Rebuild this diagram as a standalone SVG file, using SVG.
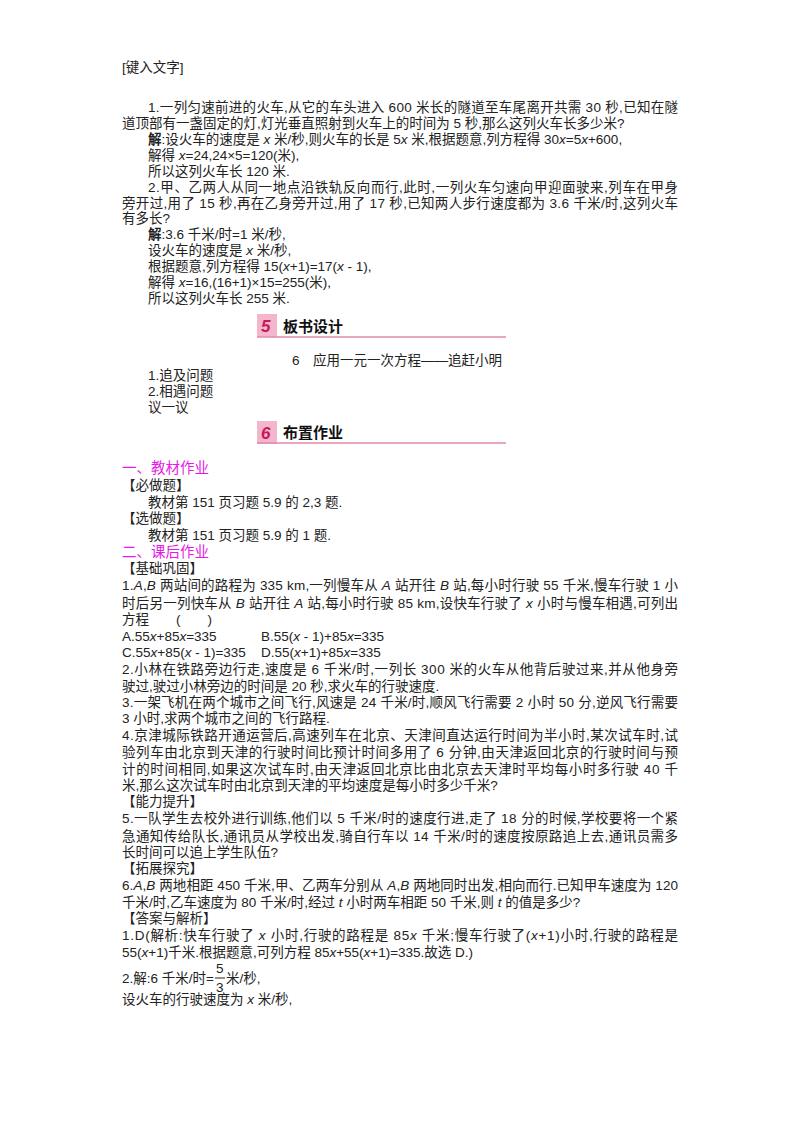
<svg xmlns="http://www.w3.org/2000/svg" width="800" height="1132" viewBox="0 0 800 1132">
<style>
text{font-family:"Liberation Sans","Noto Sans CJK SC",sans-serif;font-size:13.5px;fill:#222}
.i{font-style:italic}
.b{font-weight:bold}
.m{fill:#e619e6;font-size:14.5px}
.h{font-weight:bold;font-size:15px;fill:#111}
.n{font-weight:bold;font-style:italic;font-size:17px;fill:#c8195a}
</style>
<rect width="800" height="1132" fill="#fff"/>
<text x="122" y="72">[键入文字]</text>
<g id="q1">
<text x="148" y="112" textLength="530" lengthAdjust="spacing">1.一列匀速前进的火车,从它的车头进入 600 米长的隧道至车尾离开共需 30 秒,已知在隧</text>
<text x="122" y="128">道顶部有一盏固定的灯,灯光垂直照射到火车上的时间为 5 秒,那么这列火车长多少米?</text>
<text x="148" y="144"><tspan class="b">解</tspan>:设火车的速度是 <tspan class="i">x</tspan> 米/秒,则火车的长是 5<tspan class="i">x</tspan> 米,根据题意,列方程得 30<tspan class="i">x</tspan>=5<tspan class="i">x</tspan>+600,</text>
<text x="148" y="160">解得 <tspan class="i">x</tspan>=24,24×5=120(米),</text>
<text x="148" y="176">所以这列火车长 120 米.</text>
<text x="148" y="192" textLength="530" lengthAdjust="spacing">2.甲、乙两人从同一地点沿铁轨反向而行,此时,一列火车匀速向甲迎面驶来,列车在甲身</text>
<text x="122" y="208" textLength="556" lengthAdjust="spacing">旁开过,用了 15 秒,再在乙身旁开过,用了 17 秒,已知两人步行速度都为 3.6 千米/时,这列火车</text>
<text x="122" y="223">有多长?</text>
<text x="148" y="239"><tspan class="b">解</tspan>:3.6 千米/时=1 米/秒,</text>
<text x="148" y="255">设火车的速度是 <tspan class="i">x</tspan> 米/秒,</text>
<text x="148" y="271">根据题意,列方程得 15(<tspan class="i">x</tspan>+1)=17(<tspan class="i">x</tspan> - 1),</text>
<text x="148" y="287">解得 <tspan class="i">x</tspan>=16,(16+1)×15=255(米),</text>
<text x="148" y="303">所以这列火车长 255 米.</text>
</g>
<g id="h5">
<rect x="257" y="314" width="20" height="23" fill="#f4b6cc"/>
<text x="261" y="332" class="n">5</text>
<line x1="257" y1="337" x2="506" y2="337" stroke="#e08aa8" stroke-width="1.5"/>
<text x="283" y="332" class="h">板书设计</text>
</g>
<g id="board">
<text x="292" y="365">6　应用一元一次方程——追赶小明</text>
<text x="148" y="380">1.追及问题</text>
<text x="148" y="396">2.相遇问题</text>
<text x="148" y="412">议一议</text>
</g>
<g id="h6">
<rect x="257" y="421" width="20" height="23" fill="#f4b6cc"/>
<text x="261" y="439" class="n">6</text>
<line x1="257" y1="443" x2="506" y2="443" stroke="#e08aa8" stroke-width="1.5"/>
<text x="283" y="438" class="h">布置作业</text>
</g>
<g id="hw">
<text x="122" y="473" class="m">一、教材作业</text>
<text x="122" y="490">【必做题】</text>
<text x="148" y="507">教材第 151 页习题 5.9 的 2,3 题.</text>
<text x="122" y="523">【选做题】</text>
<text x="148" y="540">教材第 151 页习题 5.9 的 1 题.</text>
<text x="122" y="557" class="m">二、课后作业</text>
<text x="122" y="573">【基础巩固】</text>
<text x="122" y="590" textLength="556" lengthAdjust="spacing">1.<tspan class="i">A</tspan>,<tspan class="i">B</tspan> 两站间的路程为 335  km,一列慢车从 <tspan class="i">A</tspan> 站开往 <tspan class="i">B</tspan> 站,每小时行驶 55 千米,慢车行驶 1 小</text>
<text x="122" y="608" textLength="556" lengthAdjust="spacing">时后另一列快车从 <tspan class="i">B</tspan> 站开往 <tspan class="i">A</tspan> 站,每小时行驶 85  km,设快车行驶了 <tspan class="i">x</tspan> 小时与慢车相遇,可列出</text>
<text x="122" y="624">方程　　(　　)</text>
<text x="122" y="641">A.55<tspan class="i">x</tspan>+85<tspan class="i">x</tspan>=335</text>
<text x="261" y="641">B.55(<tspan class="i">x</tspan>  - 1)+85<tspan class="i">x</tspan>=335</text>
<text x="122" y="657">C.55<tspan class="i">x</tspan>+85(<tspan class="i">x</tspan>  - 1)=335</text>
<text x="261" y="657">D.55(<tspan class="i">x</tspan>+1)+85<tspan class="i">x</tspan>=335</text>
<text x="122" y="674" textLength="556" lengthAdjust="spacing">2.小林在铁路旁边行走,速度是 6 千米/时,一列长 300 米的火车从他背后驶过来,并从他身旁</text>
<text x="122" y="691">驶过,驶过小林旁边的时间是 20 秒,求火车的行驶速度.</text>
<text x="122" y="707" textLength="556" lengthAdjust="spacing">3.一架飞机在两个城市之间飞行,风速是 24 千米/时,顺风飞行需要 2 小时 50 分,逆风飞行需要</text>
<text x="122" y="723">3 小时,求两个城市之间的飞行路程.</text>
<text x="122" y="740" textLength="556" lengthAdjust="spacing">4.京津城际铁路开通运营后,高速列车在北京、天津间直达运行时间为半小时,某次试车时,试</text>
<text x="122" y="757" textLength="556" lengthAdjust="spacing">验列车由北京到天津的行驶时间比预计时间多用了 6 分钟,由天津返回北京的行驶时间与预</text>
<text x="122" y="774" textLength="556" lengthAdjust="spacing">计的时间相同,如果这次试车时,由天津返回北京比由北京去天津时平均每小时多行驶 40 千</text>
<text x="122" y="790">米,那么这次试车时由北京到天津的平均速度是每小时多少千米?</text>
<text x="122" y="806">【能力提升】</text>
<text x="122" y="823" textLength="556" lengthAdjust="spacing">5.一队学生去校外进行训练,他们以 5 千米/时的速度行进,走了 18 分的时候,学校要将一个紧</text>
<text x="122" y="841" textLength="556" lengthAdjust="spacing">急通知传给队长,通讯员从学校出发,骑自行车以 14 千米/时的速度按原路追上去,通讯员需多</text>
<text x="122" y="857">长时间可以追上学生队伍?</text>
<text x="122" y="873">【拓展探究】</text>
<text x="122" y="890" textLength="556" lengthAdjust="spacing">6.<tspan class="i">A</tspan>,<tspan class="i">B</tspan> 两地相距 450 千米,甲、乙两车分别从 <tspan class="i">A</tspan>,<tspan class="i">B</tspan> 两地同时出发,相向而行.已知甲车速度为 120</text>
<text x="122" y="907">千米/时,乙车速度为 80 千米/时,经过 <tspan class="i">t</tspan> 小时两车相距 50 千米,则 <tspan class="i">t</tspan> 的值是多少?</text>
<text x="122" y="923">【答案与解析】</text>
<text x="122" y="940" textLength="556" lengthAdjust="spacing">1.D(解析:快车行驶了 <tspan class="i">x</tspan> 小时,行驶的路程是 85<tspan class="i">x</tspan> 千米;慢车行驶了(<tspan class="i">x</tspan>+1)小时,行驶的路程是</text>
<text x="122" y="957">55(<tspan class="i">x</tspan>+1)千米.根据题意,可列方程 85<tspan class="i">x</tspan>+55(<tspan class="i">x</tspan>+1)=335.故选 D.)</text>
<text x="122" y="983">2.解:6 千米/时=</text>
<text x="216" y="973">5</text>
<line x1="215" y1="978" x2="225" y2="978" stroke="#222" stroke-width="1"/>
<text x="216" y="992">3</text>
<text x="226" y="983">米/秒,</text>
<text x="122" y="1004">设火车的行驶速度为 <tspan class="i">x</tspan> 米/秒,</text>
</g>
</svg>
